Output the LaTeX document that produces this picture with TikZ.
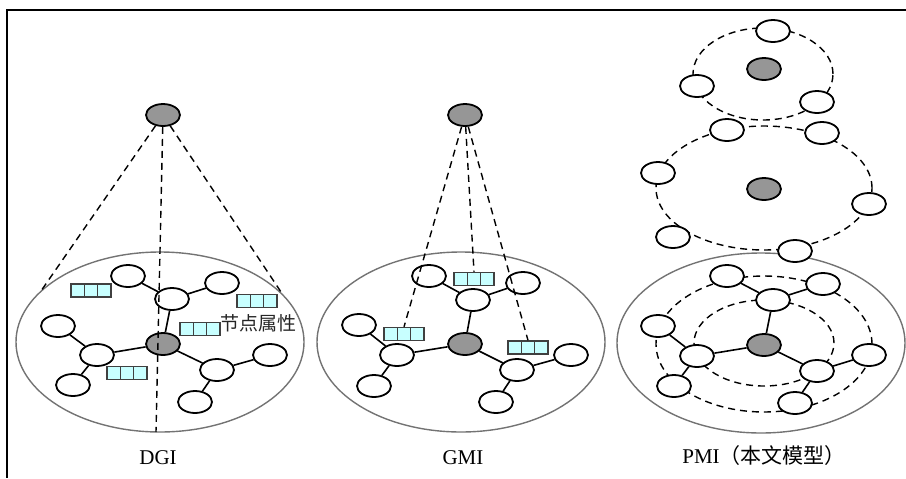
\documentclass[tikz,border=0pt]{standalone}
\usepackage{fontspec}
\setmainfont{Liberation Serif}
\newfontfamily\cjk{Noto Sans CJK SC}
\usepackage{tikz}
\usetikzlibrary{shapes.geometric}

\definecolor{attrcyan}{RGB}{200,255,255}
\definecolor{hubgray}{RGB}{150,150,150}

\tikzset{
	vtx/.style={ellipse, draw, fill=white, line width=0.9pt, minimum width=17pt, minimum height=11pt, inner sep=0pt},
	hub/.style={vtx, fill=hubgray},
	graphring/.style={ellipse, draw=black!55, line width=0.7pt, minimum width=144pt, minimum height=90pt, inner sep=0pt},
	hop/.style={dash pattern=on 3.5pt off 2.5pt, line width=0.7pt},
	link/.style={line width=0.8pt},
	attr/.style={draw=black!75, fill=attrcyan, line width=0.7pt, minimum width=20pt, minimum height=6.5pt, inner sep=0pt,
		path picture={
			\draw [black!75, line width=0.7pt] ([xshift=6.67pt]path picture bounding box.south west) -- ([xshift=6.67pt]path picture bounding box.north west);
			\draw [black!75, line width=0.7pt] ([xshift=13.33pt]path picture bounding box.south west) -- ([xshift=13.33pt]path picture bounding box.north west);
		}},
	lbl/.style={font=\fontsize{10.5}{12}\selectfont}
}

\begin{document}
\begin{tikzpicture}[x=0.5pt, y=-0.5pt]
		\useasboundingbox (0,0) rectangle (906,478);
		
		\draw [line width=1pt] (906,10) -- (7,10) -- (7,478);
		
		% DGI
		\node [graphring] (dring) at (160,342) {};
		\node [hub] (dtop) at (163,115) {};
		\node [hub] (dc) at (163,344) {};
		\node [vtx] (d1) at (128,276) {};
		\node [vtx] (d2) at (172,299) {};
		\node [vtx] (d3) at (222,283) {};
		\node [vtx] (d4) at (58,326) {};
		\node [vtx] (d5) at (97,355) {};
		\node [vtx] (d6) at (73,385) {};
		\node [vtx] (d7) at (217,370) {};
		\node [vtx] (d8) at (270,355) {};
		\node [vtx] (d9) at (195,402) {};
		
		\draw [link] (d1) -- (d2) -- (d3);
		\draw [link] (d2) -- (dc);
		\draw [link] (d4) -- (d5) -- (dc);
		\draw [link] (d5) -- (d6);
		\draw [link] (dc) -- (d7) -- (d8);
		\draw [link] (d7) -- (d9);
		
		\node [attr] (dattrA) at (91,290.5) {};
		\node [attr] (dattrB) at (257,301) {};
		\node [attr] (dattrC) at (200,329) {};
		\node [attr] (dattrD) at (127,373) {};
		\node [font=\cjk\fontsize{9.5}{11}\selectfont, text=black!85] (dattrlbl) at (258,323) {节点属性};
		
		\coordinate (dbot) at (156,432);
		\draw [hop] (dtop) -- (dring.156);
		\draw [hop] (dtop) -- (dring.22);
		\draw [hop] (dtop) -- (dbot);
		
		\node [lbl] (dname) at (158,458) {DGI};
		
		% GMI
		\node [graphring] (gring) at (461,342) {};
		\node [hub] (gtop) at (465,115) {};
		\node [hub] (gc) at (465,344) {};
		\node [vtx] (g1) at (429,276) {};
		\node [vtx] (g2) at (473,300) {};
		\node [vtx] (g3) at (523,283) {};
		\node [vtx] (g4) at (359,325) {};
		\node [vtx] (g5) at (397,355) {};
		\node [vtx] (g6) at (374,386) {};
		\node [vtx] (g7) at (517,370) {};
		\node [vtx] (g8) at (571,355) {};
		\node [vtx] (g9) at (496,402) {};
		
		\draw [link] (g1) -- (g2) -- (g3);
		\draw [link] (g2) -- (gc);
		\draw [link] (g4) -- (g5) -- (gc);
		\draw [link] (g5) -- (g6);
		\draw [link] (gc) -- (g7) -- (g8);
		\draw [link] (g7) -- (g9);
		
		\node [attr] (gattrL) at (404,334) {};
		\node [attr] (gattrT) at (474,279) {};
		\node [attr] (gattrR) at (528,347.5) {};
		
		\draw [hop] (gtop) -- (gattrL.north);
		\draw [hop] (gtop) -- (gattrT.north);
		\draw [hop] (gtop) -- (gattrR.north);
		
		\node [lbl] (gname) at (463,458) {GMI};
		
		% PMI
		\node [graphring] (pring) at (761,343) {};
		\draw [hop] (764,343) ellipse [x radius=35pt, y radius=21.5pt];
		\draw [hop] (764,344) ellipse [x radius=54pt, y radius=34pt];
		\draw [hop] (763,74) ellipse [x radius=35pt, y radius=23pt];
		\draw [hop] (764,188) ellipse [x radius=54pt, y radius=31pt];
		
		\node [hub] (pc) at (764,345) {};
		\node [vtx] (p1) at (727,276) {};
		\node [vtx] (p2) at (773,300) {};
		\node [vtx] (p3) at (823,284) {};
		\node [vtx] (p4) at (658,326) {};
		\node [vtx] (p5) at (697,356) {};
		\node [vtx] (p6) at (674,386) {};
		\node [vtx] (p7) at (817,371) {};
		\node [vtx] (p8) at (869,355) {};
		\node [vtx] (p9) at (795,403) {};
		
		\draw [link] (p1) -- (p2) -- (p3);
		\draw [link] (p2) -- (pc);
		\draw [link] (p4) -- (p5) -- (pc);
		\draw [link] (p5) -- (p6);
		\draw [link] (pc) -- (p7) -- (p8);
		\draw [link] (p7) -- (p9);
		
		% first hop, lifted
		\node [hub] (qc) at (764,69) {};
		\node [vtx] (q1) at (773,31) {};
		\node [vtx] (q2) at (697,86) {};
		\node [vtx] (q3) at (817,102) {};
		
		% second hop, lifted
		\node [hub] (rc) at (764,189) {};
		\node [vtx] (r1) at (727,130) {};
		\node [vtx] (r2) at (822,133) {};
		\node [vtx] (r3) at (658,173) {};
		\node [vtx] (r4) at (869,204) {};
		\node [vtx] (r5) at (673,237) {};
		\node [vtx] (r6) at (795,251) {};
		
		\node [lbl] (pname) at (764,456) {PMI{\cjk （本文模型）}};
	\end{tikzpicture}
\end{document}
